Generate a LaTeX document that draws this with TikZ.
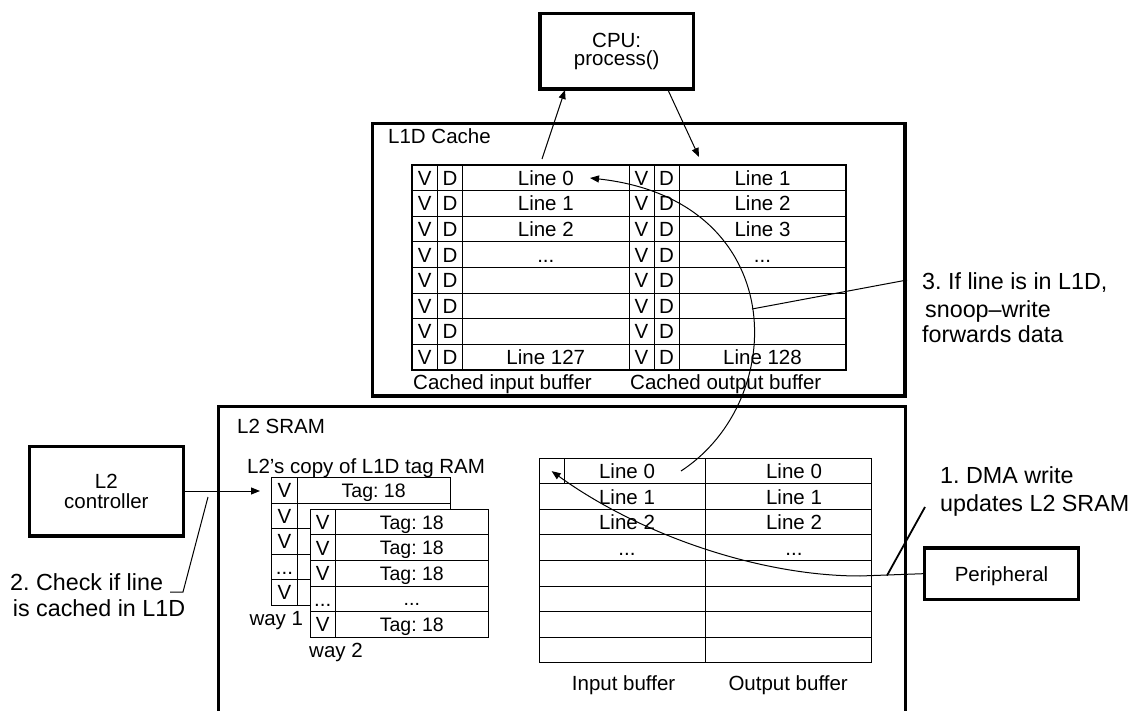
\documentclass[tikz,border=0pt]{standalone}
\usepackage{fontspec}
\setmainfont{Liberation Sans}
\usetikzlibrary{arrows.meta}
\newcommand\tdots{...}
\begin{document}
\frenchspacing
\begin{tikzpicture}[x=1pt,y=-1pt,
  box/.style={draw, line width=3.5pt, inner sep=0pt},
  fn/.style={font=\fontsize{20.5}{18.3}\selectfont},
  ann/.style={font=\fontsize{23.3}{26}\selectfont, inner sep=0pt, anchor=base west},
  txt/.style={font=\fontsize{20.5}{22}\selectfont, inner sep=0pt},
  cell/.style={font=\fontsize{20.5}{22}\selectfont, inner sep=0pt, text height=14.7pt, text depth=0pt, anchor=center},
  tcell/.style={font=\fontsize{19.5}{21}\selectfont, inner sep=0pt, text height=14pt, text depth=0pt, anchor=center},
  grid/.style={line width=1pt},
  arr/.style={line width=1pt, -{Triangle[length=9pt,width=7pt]}},
  lead/.style={line width=1pt},
]
\useasboundingbox (0,0) rectangle (1136,711);

% ---------- CPU ----------
\node[box, fn, align=center, minimum width=153.3pt, minimum height=75.7pt] (cpu) at (616.7,51.2) {CPU:\\process()};

% ---------- L1D cache ----------
\node[box, minimum width=532.7pt, minimum height=272.7pt] (l1d) at (638.65,259.65) {};
\node[txt, anchor=base west] (l1dlbl) at (388,144) {L1D Cache};

\draw[line width=2pt] (412,165) rectangle (846,370);
\foreach \k in {1,...,7} \draw[grid] (412,{165+25.625*\k}) -- (846,{165+25.625*\k});
\foreach \x in {437.3,462.7,629,654,679} \draw[grid] (\x,165) -- (\x,370);
\foreach \i in {0,...,7} {
  \node[cell] (l1v\i) at (424.65,{177.8+25.625*\i}) {V};
  \node[cell] (l1dd\i) at (450,{177.8+25.625*\i}) {D};
  \node[cell] (l1vr\i) at (641.5,{177.8+25.625*\i}) {V};
  \node[cell] (l1ddr\i) at (666.5,{177.8+25.625*\i}) {D};
}
\foreach \r/\a/\b in {0/Line 0/Line 1,1/Line 1/Line 2,2/Line 2/Line 3,3/\tdots/\tdots,7/Line 127/Line 128} {
  \node[cell] (l1a\r) at (545.8,{177.8+25.625*\r}) {\a};
  \node[cell] (l1b\r) at (762.5,{177.8+25.625*\r}) {\b};
}
\node[txt, anchor=base west] (cin) at (413,390) {Cached input buffer};
\node[txt, anchor=base west] (cout) at (630,390) {Cached output buffer};

% ---------- L2 SRAM ----------
\draw[line width=3.5pt] (218.3,711) -- (218.3,406.7) -- (905.5,406.7) -- (905.5,711);
\node[txt, anchor=base west] (l2lbl) at (237,434) {L2 SRAM};

% tag RAM copy
\node[txt, anchor=base west] (taglbl) at (247,473) {L2’s copy of L1D tag RAM};
\draw[grid] (271.7,477.7) rectangle (450,605);
\foreach \k in {1,...,4} \draw[grid] (271.7,{477.7+25.46*\k}) -- (450,{477.7+25.46*\k});
\draw[grid] (297.3,477.7) -- (297.3,605);
\foreach \i/\v in {0/V,1/V,2/V,3/\tdots,4/V}
  \node[cell] (w1v\i) at (284.5,{490.4+25.46*\i}) {\v};
\node[tcell] (w1t0) at (373.7,490.4) {Tag: 18};

\filldraw[grid, fill=white] (310,509.3) rectangle (488.3,637.3);
\foreach \k in {1,...,4} \draw[grid] (310,{509.3+25.6*\k}) -- (488.3,{509.3+25.6*\k});
\draw[grid] (335.3,509.3) -- (335.3,637.3);
\foreach \i/\v/\t in {0/V/Tag: 18,1/V/Tag: 18,2/V/Tag: 18,3/\tdots/\tdots,4/V/Tag: 18} {
  \node[cell] (w2v\i) at (322.65,{522.1+25.6*\i}) {\v};
  \node[tcell] (w2t\i) at (411.8,{522.1+25.6*\i}) {\t};
}
\node[txt, anchor=base east] (way1) at (303.3,625) {way 1};
\node[txt, anchor=base west] (way2) at (309,657) {way 2};

% L2 buffers
\draw[grid] (539,458.3) rectangle (871,662.7);
\foreach \k in {1,...,7} \draw[grid] (539,{458.3+25.55*\k}) -- (871,{458.3+25.55*\k});
\draw[grid] (705,458.3) -- (705,662.7);
\node[draw, line width=1pt, minimum width=25.3pt, minimum height=25.55pt, inner sep=0pt] (l2sq) at (551.65,471.1) {};
\foreach \r/\a in {0/Line 0,1/Line 1,2/Line 2,3/\tdots} {
  \node[cell] (l2a\r) at (627,{471.1+25.55*\r}) {\a};
  \node[cell] (l2b\r) at (794,{471.1+25.55*\r}) {\a};
}
\node[txt, anchor=base west] (inb) at (571.7,690) {Input buffer};
\node[txt, anchor=base west] (outb) at (728.3,690) {Output buffer};

% ---------- L2 controller & peripheral ----------
\node[box, font=\fontsize{20.5}{20}\selectfont, align=center, minimum width=153.8pt, minimum height=89.3pt] (ctrl) at (106.4,491.3) {L2\\controller};
\node[box, font=\fontsize{20.5}{22}\selectfont, text height=15pt, text depth=0pt, minimum width=153.6pt, minimum height=51.3pt] (periph) at (1001.5,573.7) {Peripheral};

% ---------- connectors ----------
\coordinate (cpuin) at (565,90);
\coordinate (cpuinfrom) at (542,159);
\coordinate (cpuoutto) at (699,157);
\coordinate (cpuout) at (668,90);
\draw[arr] (cpuinfrom) -- (cpuin);
\draw[arr] (cpuout) -- (cpuoutto);

\coordinate (tagin) at (260,491);
\draw[arr] (ctrl.east |- tagin) -- (tagin);

\coordinate (sns) at (681,471);
\coordinate (sne) at (590,178);
\draw[arr] (sns) .. controls (790,400) and (790,200) .. (sne);

\coordinate (pbend) at (860,576);
\draw[arr] (periph.west) -- (pbend) .. controls (760,576) and (640,535) .. (l2sq.center);

% leaders
\coordinate (c2a) at (170,592);
\coordinate (c2b) at (183,592);
\coordinate (c2c) at (208,497);
\draw[lead] (c2a) -- (c2b) -- (c2c);
\coordinate (c3a) at (752,309);
\coordinate (c3b) at (907,280);
\draw[lead] (c3a) -- (c3b);
\coordinate (c1a) at (887,575.5);
\coordinate (c1b) at (925,507);
\draw[line width=1.8pt] (c1a) -- (c1b);

% annotations
\node[ann] (n3a) at (922,290) {3. If line is in L1D,};
\node[ann] (n3b) at (925,318) {snoop–write};
\node[ann] (n3c) at (922,343) {forwards data};
\node[ann] (n1a) at (940,483) {1. DMA write};
\node[ann] (n1b) at (940,511) {updates L2 SRAM};
\node[ann] (n2a) at (10,590) {2. Check if line};
\node[ann] (n2b) at (12.7,616.7) {is cached in L1D};
\end{tikzpicture}
\end{document}
